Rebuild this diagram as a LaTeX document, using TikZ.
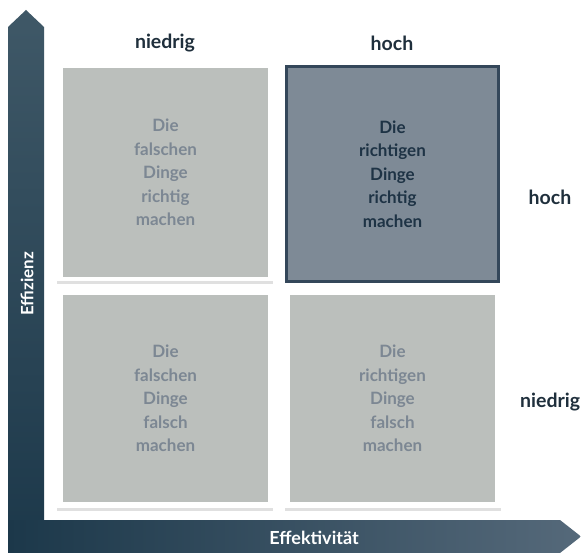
\documentclass[tikz,border=0pt]{standalone}
\usepackage{fontspec}
\setmainfont{Lato}
\begin{document}
\begin{tikzpicture}[x=1pt,y=-1pt,
  quad/.style={fill=quadgray, text=quadtext, align=center, font=\bfseries\fontsize{17}{23.5}\selectfont},
  quadhi/.style={fill=hifill, draw=hiborder, line width=3pt, text=hitext, align=center, font=\bfseries\fontsize{17}{23.5}\selectfont},
  frame/.style={fill=white},
  shadow/.style={fill=black!12},
  lab/.style={text=labtext, font=\bfseries\fontsize{19.5}{22}\selectfont}]
\definecolor{quadgray}{HTML}{BBBFBC}
\definecolor{quadtext}{HTML}{7C8793}
\definecolor{hifill}{HTML}{7E8A96}
\definecolor{hiborder}{HTML}{34475A}
\definecolor{hitext}{HTML}{1E3345}
\definecolor{labtext}{HTML}{1F2F3C}
\definecolor{axtop}{HTML}{3F5867}
\definecolor{axbot}{HTML}{1C384A}
\definecolor{axright}{HTML}{55697A}
\useasboundingbox (0,0) rectangle (581,553);
\fill[white] (0,0) rectangle (581,553);
% vertical axis (Effizienz)
\shade[top color=axtop, bottom color=axbot]
  (8,553) -- (8,27) -- (26,10) -- (44,27) -- (44,553) -- cycle;
% horizontal axis (Effektivität)
\shade[left color=axbot, right color=axright]
  (8,520) -- (560,520) -- (581,536.5) -- (560,553) -- (8,553) -- cycle;
\node[text=white, rotate=90, font=\bfseries\fontsize{17}{19}\selectfont] (yl) at (27,284) {Effizienz};
\node[text=white, font=\bfseries\fontsize{18}{20}\selectfont] (xl) at (314,538) {Effektivität};
% frames with soft shadow
\foreach \x/\y in {57/63, 57/290, 285/290}{
  \fill[shadow] (\x,\y+3) rectangle (\x+216,\y+221);
  \fill[frame] (\x,\y) rectangle (\x+216,\y+218);
}
% quadrants
\node[quad, minimum width=205pt, minimum height=209pt] (ff) at (165.5,172.5)
  {Die\\falschen\\Dinge\\richtig\\machen};
\node[quadhi, minimum width=212pt, minimum height=215pt] (rr) at (392.5,174)
  {Die\\richtigen\\Dinge\\richtig\\machen};
\node[quad, minimum width=205pt, minimum height=207pt] (fw) at (165.5,398.5)
  {Die\\falschen\\Dinge\\falsch\\machen};
\node[quad, minimum width=205pt, minimum height=207pt] (rw) at (392.5,398.5)
  {Die\\richtigen\\Dinge\\falsch\\machen};
% axis labels
\node[lab] (c1) at (165,43) {niedrig};
\node[lab] (c2) at (392,43) {hoch};
\node[lab] (r1) at (550,197) {hoch};
\node[lab, anchor=west, inner sep=0pt] (r2) at (520,402) {niedrig};
\end{tikzpicture}
\end{document}
